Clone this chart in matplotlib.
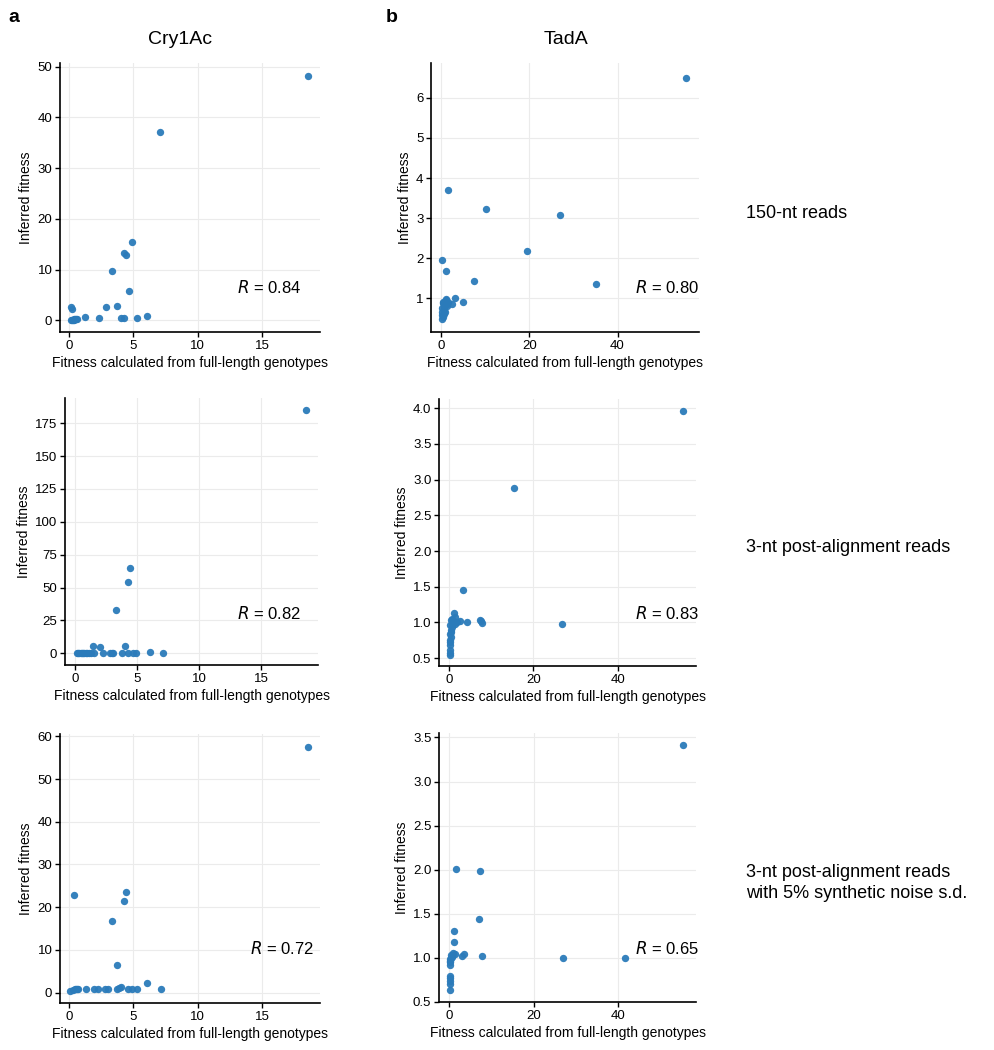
import matplotlib
matplotlib.use("Agg")
import matplotlib.pyplot as plt
from matplotlib.ticker import FormatStrFormatter

plt.rcParams['font.family'] = ['Liberation Sans', 'DejaVu Sans']

# Cry1Ac, 150-nt reads
cry_150_x = [18.57, 7.1, 4.9, 4.27, 4.46, 3.34, 4.66, 2.88, 3.7, 0.18, 0.23, 1.24, 2.3, 4.07, 4.27,
             5.26, 6.06, 0.12, 0.2, 0.28, 0.35, 0.42, 0.5, 0.58, 0.65]
cry_150_y = [48.1, 37.06, 15.5, 13.2, 12.9, 9.66, 5.85, 2.63, 2.89, 2.69, 2.17, 0.59, 0.39, 0.46, 0.39,
             0.46, 0.92, 0.05, 0.1, 0.08, 0.15, 0.2, 0.25, 0.3, 0.35]

# TadA, 150-nt reads
tad_150_x = [55.6, 1.44, 10.05, 26.9, 19.4, 0.23, 1.0, 7.4, 35.1, 3.07, 4.9, 2.5, 0.15, 0.15, 0.5, 0.9,
             1.15, 0.4, 0.7, 1.3, 1.6, 0.9, 0.15, 0.35, 0.3, 0.6, 1.0, 0.2, 0.8, 1.2, 0.5]
tad_150_y = [6.49, 3.69, 3.24, 3.09, 2.19, 1.95, 1.68, 1.44, 1.35, 1.02, 0.91, 0.87, 0.58, 0.48, 0.70, 0.83,
             0.95, 0.91, 0.78, 0.87, 0.91, 0.67, 0.67, 0.53, 0.88, 0.62, 0.99, 0.75, 0.92, 0.80, 0.85]

# Cry1Ac, 3-nt post-alignment reads
cry_3nt_x = [18.63, 4.42, 4.24, 3.30, 1.42, 2.04, 4.05, 6.06, 7.08, 0.15, 0.25, 0.35, 0.45, 0.55, 0.65,
             0.75, 0.85, 1.0, 1.15, 1.3, 1.5, 2.28, 2.82, 3.0, 3.09, 3.76, 4.25, 4.7, 4.9]
cry_3nt_y = [184.9, 64.8, 53.9, 32.9, 5.6, 4.8, 5.3, 1.0, 0.25, 0.1, 0.1, 0.2, 0.1, 0.15, 0.2,
             0.1, 0.2, 0.15, 0.1, 0.2, 0.1, 0.2, 0.15, 0.1, 0.2, 0.15, 0.2, 0.1, 0.2]

# TadA, 3-nt post-alignment reads
tad_3nt_x = [55.35, 15.3, 26.85, 3.4, 7.3, 7.5, 7.9, 4.2, 2.6, 1.8, 1.18, 1.4,
             0.2, 0.25, 0.3, 0.2, 0.3, 0.25, 0.4, 0.3, 0.5, 0.4, 0.6, 0.3, 0.8, 1.0, 0.5, 1.2, 0.7, 1.5]
tad_3nt_y = [3.96, 2.88, 0.98, 1.45, 1.04, 1.02, 0.99, 1.01, 1.02, 1.01, 1.13, 1.08,
             0.54, 0.57, 0.62, 0.68, 0.72, 0.76, 0.80, 0.84, 0.87, 0.90, 0.93, 0.96, 0.99, 1.02, 1.03, 1.0, 1.05, 0.98]

# Cry1Ac, 3-nt reads with 5% synthetic noise
cry_noise_x = [18.6, 0.36, 4.44, 4.28, 3.35, 3.71, 6.07, 4.07, 7.11, 0.1, 0.34, 0.52, 0.72, 0.6, 0.45,
               1.3, 1.97, 2.23, 2.8, 3.0, 3.7, 3.9, 4.6, 4.9, 5.3]
cry_noise_y = [57.6, 22.85, 23.55, 21.5, 16.7, 6.57, 2.19, 1.33, 0.78, 0.4, 0.7, 0.85, 0.9, 0.95, 0.8,
               0.85, 0.85, 0.85, 0.85, 0.85, 0.8, 1.0, 0.85, 0.85, 0.85]

# TadA, 3-nt reads with 5% synthetic noise
tad_noise_x = [55.4, 1.73, 7.41, 7.1, 1.26, 1.26, 7.9, 26.9, 41.5, 3.1, 3.55, 0.24, 0.24, 0.24, 0.24,
               0.24, 0.24, 0.3, 0.5, 1.0, 1.3, 0.7, 0.4, 0.3, 0.24, 0.8]
tad_noise_y = [3.41, 2.01, 1.99, 1.44, 1.30, 1.18, 1.02, 1.0, 1.0, 1.02, 1.04, 0.64, 0.70, 0.77, 0.80,
               0.92, 0.95, 0.99, 1.03, 1.05, 1.04, 1.02, 1.0, 0.97, 0.74, 1.01]

r_values = ["0.84", "0.80", "0.82", "0.83", "0.72", "0.65"]
row_labels = ["150-nt reads", "3-nt post-alignment reads",
              "3-nt post-alignment reads\nwith 5% synthetic noise s.d."]
col_titles = ["Cry1Ac", "TadA"]

W, H = 994, 1050
fig = plt.figure(figsize=(W / 100, H / 100), dpi=100)

def px_axes(left, top, right, bottom):
    return fig.add_axes([left / W, 1 - bottom / H, (right - left) / W, (bottom - top) / H])

panels = [
    (cry_150_x, cry_150_y, (60, 63, 320, 332), (-0.7, 19.5), (-2.3, 50.7), [0, 5, 10, 15], [0, 10, 20, 30, 40, 50], None, (0.93, 0.167)),
    (tad_150_x, tad_150_y, (431, 63, 699, 332), (-2.34, 58.5), (0.16, 6.87), [0, 20, 40], [1, 2, 3, 4, 5, 6], None, (1.0, 0.165)),
    (cry_3nt_x, cry_3nt_y, (65, 398, 318, 665), (-0.81, 19.6), (-8.9, 194.2), [0, 5, 10, 15], [0, 25, 50, 75, 100, 125, 150, 175], None, (0.935, 0.193)),
    (tad_3nt_x, tad_3nt_y, (439, 399, 696, 666), (-2.37, 58.5), (0.39, 4.13), [0, 20, 40], [0.5, 1.0, 1.5, 2.0, 2.5, 3.0, 3.5, 4.0], '%.1f', (1.013, 0.197)),
    (cry_noise_x, cry_noise_y, (60, 734, 320, 1003), (-0.7, 19.5), (-2.44, 60.56), [0, 5, 10, 15], [0, 10, 20, 30, 40, 50, 60], None, (0.976, 0.203)),
    (tad_noise_x, tad_noise_y, (439, 733, 696, 1002), (-2.37, 58.4), (0.5, 3.55), [0, 20, 40], [0.5, 1.0, 1.5, 2.0, 2.5, 3.0, 3.5], '%.1f', (1.013, 0.199)),
]

for i, (xs, ys, box, xlim, ylim, xt, yt, fmt, rpos) in enumerate(panels):
    ax = px_axes(*box)
    ax.scatter(xs, ys, s=28, color='#2b7bba', alpha=0.95, linewidths=0, zorder=3)
    ax.set_xlim(*xlim)
    ax.set_ylim(*ylim)
    ax.set_xticks(xt)
    ax.set_yticks(yt)
    if fmt:
        ax.yaxis.set_major_formatter(FormatStrFormatter(fmt))
    ax.grid(True, color='#ebebeb', linewidth=0.8, zorder=0)
    ax.set_axisbelow(True)
    for side in ['top', 'right']:
        ax.spines[side].set_visible(False)
    for side in ['left', 'bottom']:
        ax.spines[side].set_linewidth(1.2)
    ax.tick_params(labelsize=9.5, length=3.5, width=1, colors='black', pad=2)
    ax.set_xlabel("Fitness calculated from full-length genotypes", fontsize=10, labelpad=3)
    ax.set_ylabel("Inferred fitness", fontsize=10, labelpad=3)
    ax.text(rpos[0], rpos[1], "$\\it{R}$ = " + r_values[i], transform=ax.transAxes,
            ha='right', va='center', fontsize=12)

fig.text(8 / W, 1 - 18 / H, "a", fontsize=14, fontweight='bold', ha='left', va='center')
fig.text(386 / W, 1 - 18 / H, "b", fontsize=14, fontweight='bold', ha='left', va='center')
fig.text(180 / W, 1 - 40 / H, col_titles[0], fontsize=14, ha='center', va='center')
fig.text(566 / W, 1 - 40 / H, col_titles[1], fontsize=14, ha='center', va='center')

fig.text(746 / W, 1 - 213 / H, row_labels[0], fontsize=13, ha='left', va='center')
fig.text(746 / W, 1 - 548 / H, row_labels[1], fontsize=13, ha='left', va='center')
fig.text(746 / W, 1 - 883 / H, row_labels[2], fontsize=13, ha='left', va='center', linespacing=1.3)

fig.savefig("out.png", dpi=100)
